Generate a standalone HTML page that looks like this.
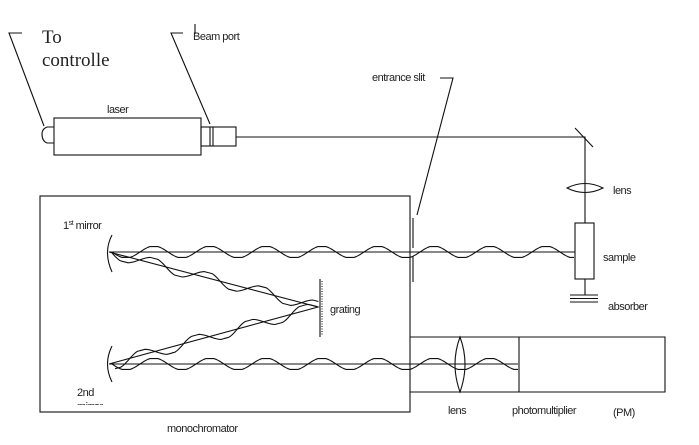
<!DOCTYPE html>
<html><head><meta charset="utf-8"><style>
body{margin:0;background:#fff}
svg{display:block}
text{font-family:"Liberation Sans",sans-serif;font-size:11px;fill:#222;letter-spacing:-0.5px}
</style></head><body>
<svg id="s" width="699" height="445" viewBox="0 0 699 445" stroke="#111" fill="none" stroke-width="1.1">
<defs><clipPath id="cm"><rect x="60" y="380" width="80" height="25"/></clipPath></defs>
<g>
<text x="42" y="43" style="font-family:'Liberation Serif',serif;font-size:19px;letter-spacing:0" stroke="none">To</text>
<text x="42" y="66" style="font-family:'Liberation Serif',serif;font-size:19px;letter-spacing:0" stroke="none">controlle</text>
<path d="M22 33 H9 L44 126"/>
</g>
<g>
<text x="193" y="40" stroke="none">Beam port</text>
<path d="M195 24 V34"/>
<path d="M183 33 H171 L210 124"/>
</g>
<g>
<text x="107" y="113" stroke="none">laser</text>
<rect x="54" y="118" width="147" height="37"/>
<path d="M54 127 H47 Q42 129 42 134 Q42 141 47 143 H54"/>
<rect x="201" y="127" width="35" height="19"/>
<path d="M210 127 V146 M213 127 V146"/>
</g>
<path d="M236 137 H585 V223"/>
<path d="M575 128 L593 147"/>
<path d="M567 188 Q585 179 603 188 Q585 197 567 188Z"/>
<text x="613" y="194" stroke="none">lens</text>
<rect x="575" y="223" width="19" height="56"/>
<text x="603" y="261" stroke="none">sample</text>
<path d="M585 279 V295 M570 295 H598 M570 298.5 H598 M570 302 H598"/>
<text x="608" y="310" stroke="none">absorber</text>
<rect x="40" y="196" width="370" height="216"/>
<text x="167" y="432" stroke="none">monochromator</text>
<text x="63" y="229" stroke="none">1<tspan font-size="7" dy="-4">st</tspan><tspan dy="4"> mirror</tspan></text>
<text x="77" y="396" stroke="none">2nd</text>
<text x="77" y="410" stroke="none" clip-path="url(#cm)">mirror</text>
<path d="M413 218 V248 M413 256 V282"/>
<text x="372" y="81" stroke="none">entrance slit</text>
<path d="M440 78 H453 L417 215"/>
<path d="M112 235 Q103 252 112 272"/>
<path d="M112 346 Q103 364 112 382"/>
<path d="M320 279 V337"/>
<path d="M322 281 V335" stroke-dasharray="1 1.5"/>
<text x="330" y="313" stroke="none">grating</text>
<path d="M109 252 H575 M109 252 L318 307 L109 364 M109 364 H518"/>
<g id="waves"></g>
<path d="M410 337 H665 V392 H410 M519 337 V392"/>
<path d="M460 337 Q470 364 460 392 Q450 364 460 337Z"/>
<text x="448" y="414" stroke="none">lens</text>
<text x="512" y="414" stroke="none">photomultiplier</text>
<text x="613" y="416" stroke="none">(PM)</text>
</svg>
<script>
const segs=[[112,252,575,252],[112,253,318,307],[318,307,112,364],[112,364,518,364]];
const g=document.getElementById('waves');
segs.forEach(s=>{
 const [x1,y1,x2,y2]=s,dx=x2-x1,dy=y2-y1,L=Math.hypot(dx,dy),ux=dx/L,uy=dy/L,nx=-uy,ny=ux;
 let d='',per=56,A=6;
 for(let t=0;t<=L;t+=2){const w=A*Math.sin(t/per*2*Math.PI);const c=Math.max(-A*0.9,Math.min(A*0.9,w));
  const px=x1+ux*t+nx*c,py=y1+uy*t+ny*c;d+=(t?'L':'M')+px.toFixed(1)+' '+py.toFixed(1);}
 const p=document.createElementNS('http://www.w3.org/2000/svg','path');
 p.setAttribute('d',d);
 
 
 g.appendChild(p);
});
</script>
</body></html>
